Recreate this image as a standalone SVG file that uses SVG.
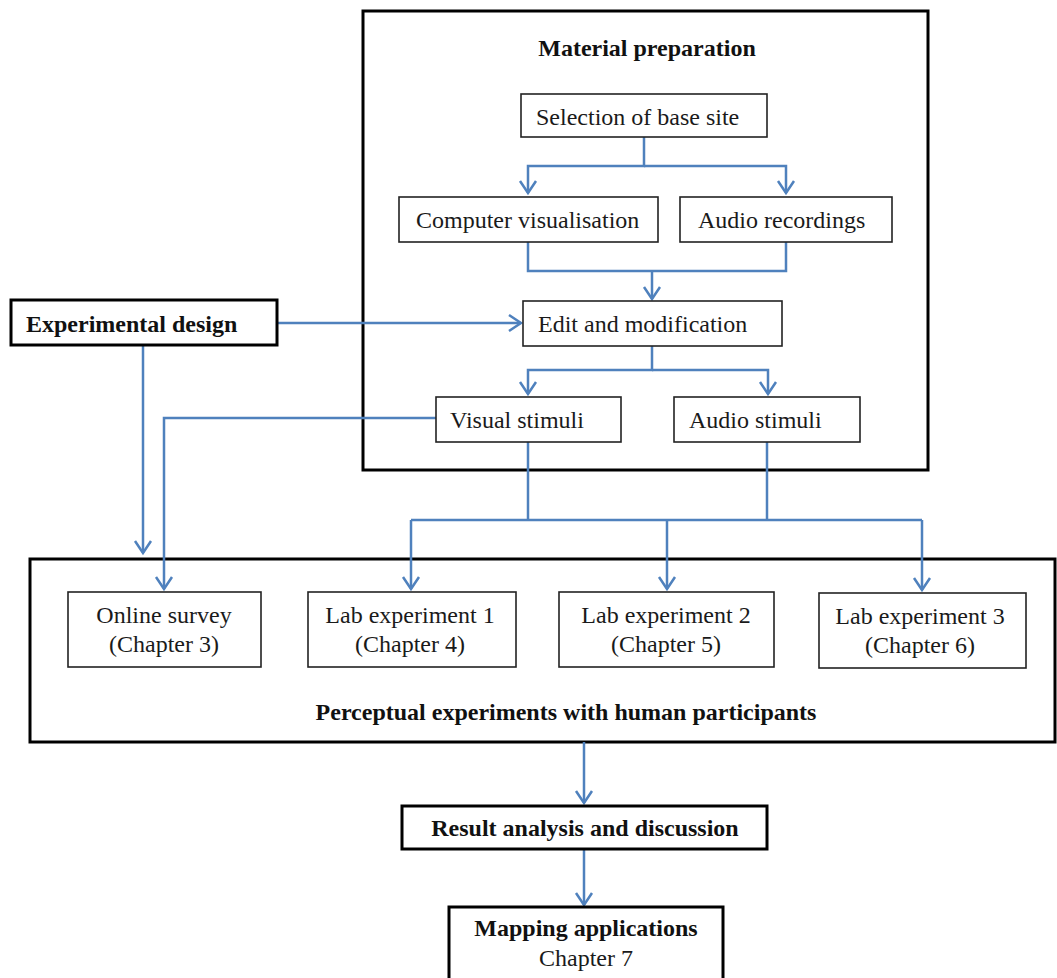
<svg xmlns="http://www.w3.org/2000/svg" width="1057" height="978" viewBox="0 0 1057 978">
<style>
.bg{fill:#fff}
.box{fill:#fff;stroke:#222;stroke-width:1.6}
.bbox{fill:none;stroke:#000;stroke-width:3}
.bboxf{fill:#fff;stroke:#000;stroke-width:3}
.t{font-family:"Liberation Serif","Times New Roman",serif;font-size:24px;fill:#1a1a1a}
.b{font-family:"Liberation Serif","Times New Roman",serif;font-size:24px;font-weight:bold;fill:#111}
.m{text-anchor:middle}
.c{fill:none;stroke:#4f81bd;stroke-width:2.5}
.a{marker-end:url(#arr)}
</style>
<defs>
<marker id="arr" markerUnits="userSpaceOnUse" markerWidth="30" markerHeight="30" viewBox="-15 -15 30 30" refX="0" refY="0" orient="auto">
<path d="M-12,-8 L0,0 L-12,8" fill="none" stroke="#4f81bd" stroke-width="2.5"/>
</marker>
</defs>
<rect class="bg" x="0" y="0" width="1057" height="978"/>

<g id="material-preparation">
<rect class="bbox" x="363" y="11" width="565" height="459"/>
<text class="b m" x="647" y="56">Material preparation</text>
</g>
<g id="perceptual-experiments">
<rect class="bbox" x="30" y="559" width="1025" height="183"/>
<text class="b m" x="566" y="720">Perceptual experiments with human participants</text>
</g>

<g id="connectors">
<path class="c a" d="M644,137 V166 H528 V193"/>
<path class="c a" d="M644,166 H786 V193"/>
<path class="c" d="M528,242 V271 H786 V242"/>
<path class="c a" d="M652,271 V299"/>
<path class="c a" d="M277,323 H521"/>
<path class="c a" d="M652,346 V370 H528 V394"/>
<path class="c a" d="M652,370 H768 V394"/>
<path class="c a" d="M436,418 H164 V589"/>
<path class="c a" d="M143,345 V553"/>
<path class="c" d="M528,442 V520"/>
<path class="c" d="M767,442 V520"/>
<path class="c" d="M411,520 H922"/>
<path class="c a" d="M411,520 V589"/>
<path class="c a" d="M667,520 V589"/>
<path class="c a" d="M922,520 V590"/>
<path class="c a" d="M584,742 V803"/>
<path class="c a" d="M584,849 V905"/>
</g>

<g id="selection">
<rect class="box" x="521" y="94" width="246" height="43"/>
<text class="t" x="536" y="125">Selection of base site</text>
</g>
<g id="computer-visualisation">
<rect class="box" x="399" y="197" width="259" height="45"/>
<text class="t" x="416" y="228">Computer visualisation</text>
</g>
<g id="audio-recordings">
<rect class="box" x="680" y="197" width="212" height="45"/>
<text class="t" x="698" y="228">Audio recordings</text>
</g>
<g id="edit">
<rect class="box" x="523" y="301" width="259" height="45"/>
<text class="t" x="538" y="332">Edit and modification</text>
</g>
<g id="experimental-design">
<rect class="bboxf" x="11" y="300" width="266" height="45"/>
<text class="b" x="26" y="332">Experimental design</text>
</g>
<g id="visual-stimuli">
<rect class="box" x="436" y="397" width="185" height="45"/>
<text class="t" x="450" y="428">Visual stimuli</text>
</g>
<g id="audio-stimuli">
<rect class="box" x="674" y="397" width="186" height="45"/>
<text class="t" x="689" y="428">Audio stimuli</text>
</g>
<g id="online-survey">
<rect class="box" x="68" y="592" width="193" height="75"/>
<text class="t m" x="164" y="623">Online survey</text>
<text class="t m" x="164" y="652">(Chapter 3)</text>
</g>
<g id="lab1">
<rect class="box" x="308" y="592" width="208" height="75"/>
<text class="t m" x="410" y="623">Lab experiment 1</text>
<text class="t m" x="410" y="652">(Chapter 4)</text>
</g>
<g id="lab2">
<rect class="box" x="559" y="592" width="215" height="75"/>
<text class="t m" x="666" y="623">Lab experiment 2</text>
<text class="t m" x="666" y="652">(Chapter 5)</text>
</g>
<g id="lab3">
<rect class="box" x="819" y="593" width="207" height="75"/>
<text class="t m" x="920" y="624">Lab experiment 3</text>
<text class="t m" x="920" y="653">(Chapter 6)</text>
</g>
<g id="result-analysis">
<rect class="bboxf" x="402" y="806" width="365" height="43"/>
<text class="b m" x="585" y="836">Result analysis and discussion</text>
</g>
<g id="mapping-applications">
<rect class="bboxf" x="449" y="907" width="274" height="76"/>
<text class="b m" x="586" y="936">Mapping applications</text>
<text class="t m" x="586" y="966">Chapter 7</text>
</g>
</svg>
